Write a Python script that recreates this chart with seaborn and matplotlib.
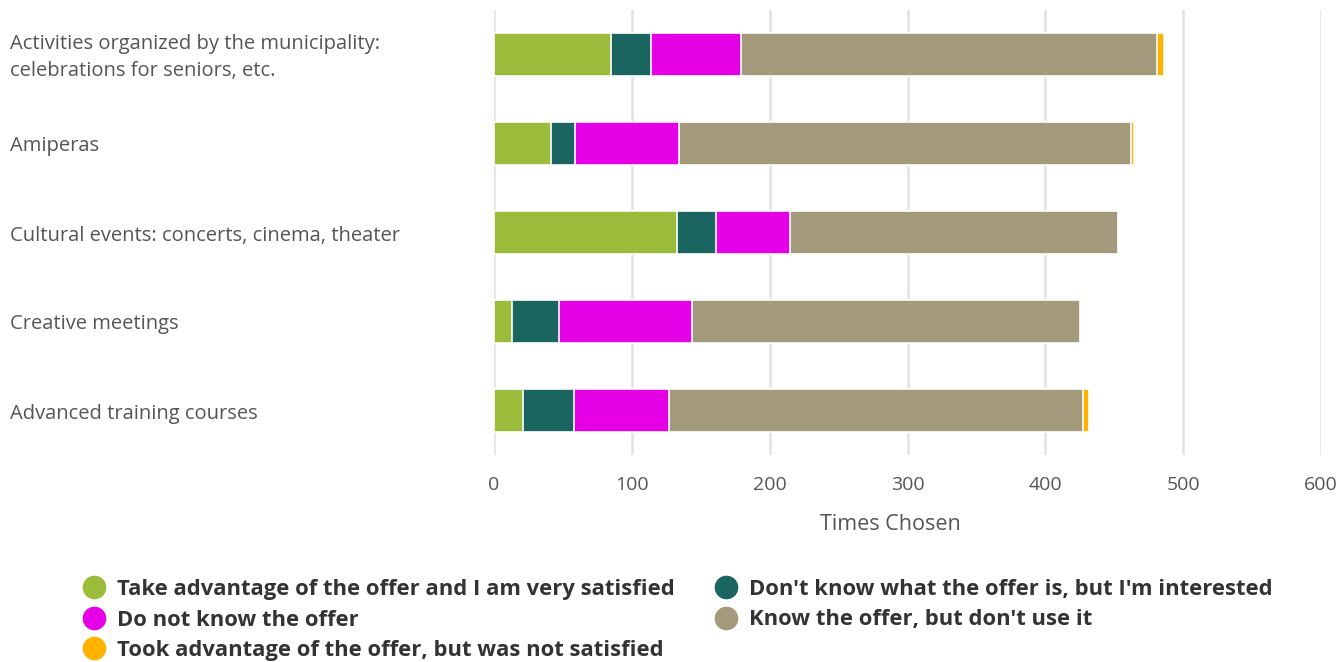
import pandas as pd
import seaborn as sns
import matplotlib.pyplot as plt
import matplotlib.transforms as mtransforms
from matplotlib.lines import Line2D

categories = [
    "Activities organized by the municipality:\ncelebrations for seniors, etc.",
    "Amiperas",
    "Cultural events: concerts, cinema, theater",
    "Creative meetings",
    "Advanced training courses",
]
series_names = [
    "Take advantage of the offer and I am very satisfied",
    "Don't know what the offer is, but I'm interested",
    "Do not know the offer",
    "Know the offer, but don't use it",
    "Took advantage of the offer, but was not satisfied",
]
very_satisfied = [85, 41, 133, 13, 21]
interested = [29, 18, 28, 34, 37]
not_know = [65, 75, 54, 97, 69]
know_not_use = [302, 328, 238, 281, 300]
not_satisfied = [5, 2, 0, 0, 5]
colors = ["#9BBB3B", "#1B6560", "#E600E6", "#A39A7B", "#FFB300"]

sns.set_theme(style="white")
plt.rcParams['font.family'] = ['Open Sans', 'DejaVu Sans']

df = pd.DataFrame({
    "cat": categories,
    series_names[0]: very_satisfied,
    series_names[1]: interested,
    series_names[2]: not_know,
    series_names[3]: know_not_use,
    series_names[4]: not_satisfied,
})
cum = df[series_names].cumsum(axis=1)

fig = plt.figure(figsize=(13.41, 6.62), dpi=100)
ax = fig.add_axes([494/1341, 1-455/662, (1321-494)/1341, 445/662])

# draw cumulative totals from the largest down so each segment shows
for name, col in reversed(list(zip(series_names, colors))):
    sns.barplot(x=cum[name], y=df["cat"], orient="h", color=col, ax=ax,
                width=0.49, edgecolor="white", linewidth=1.2, saturation=1)

ax.set_xlim(0, 600)
ax.set_ylim(4.5, -0.5)
ax.set_xticks(range(0, 601, 100))
ax.xaxis.grid(True, color="#e3e3e3", linewidth=1.8)
ax.set_axisbelow(True)
for s in ax.spines.values():
    s.set_visible(False)
ax.tick_params(axis="x", length=0, pad=15, labelsize=14, labelcolor="#555555")
ax.set_yticks([])
ax.set_ylabel("")
ax.set_xlabel("Times Chosen", fontsize=15.5, color="#555555")
ax.xaxis.set_label_coords((890-494)/827, -(525-455)/445, transform=ax.transAxes)
ax.xaxis.label.set_va("center")

trans = mtransforms.blended_transform_factory(fig.transFigure, ax.transData)
trans = mtransforms.offset_copy(trans, fig=fig, y=-3, units="dots")
for i, c in enumerate(categories):
    ax.text(10/1341, i, c, transform=trans, ha="left", va="center",
            fontsize=14.5, color="#555555", linespacing=1.5)

handles = [Line2D([0], [0], marker="o", linestyle="", markersize=16,
                  markerfacecolor=c, markeredgecolor=c) for c in colors]
order = [0, 2, 4, 1, 3]
leg = fig.legend([handles[i] for i in order], [series_names[i] for i in order],
                 loc="center left", bbox_to_anchor=(80/1341, 1-620/662), ncol=2,
                 frameon=False, handletextpad=0.4, columnspacing=1.65,
                 labelspacing=0.44, borderaxespad=0, borderpad=0, handlelength=1.3,
                 prop={"weight": "bold", "size": 15.8})
for t in leg.get_texts():
    t.set_color("#333333")

fig.savefig("out.png", dpi=100)
